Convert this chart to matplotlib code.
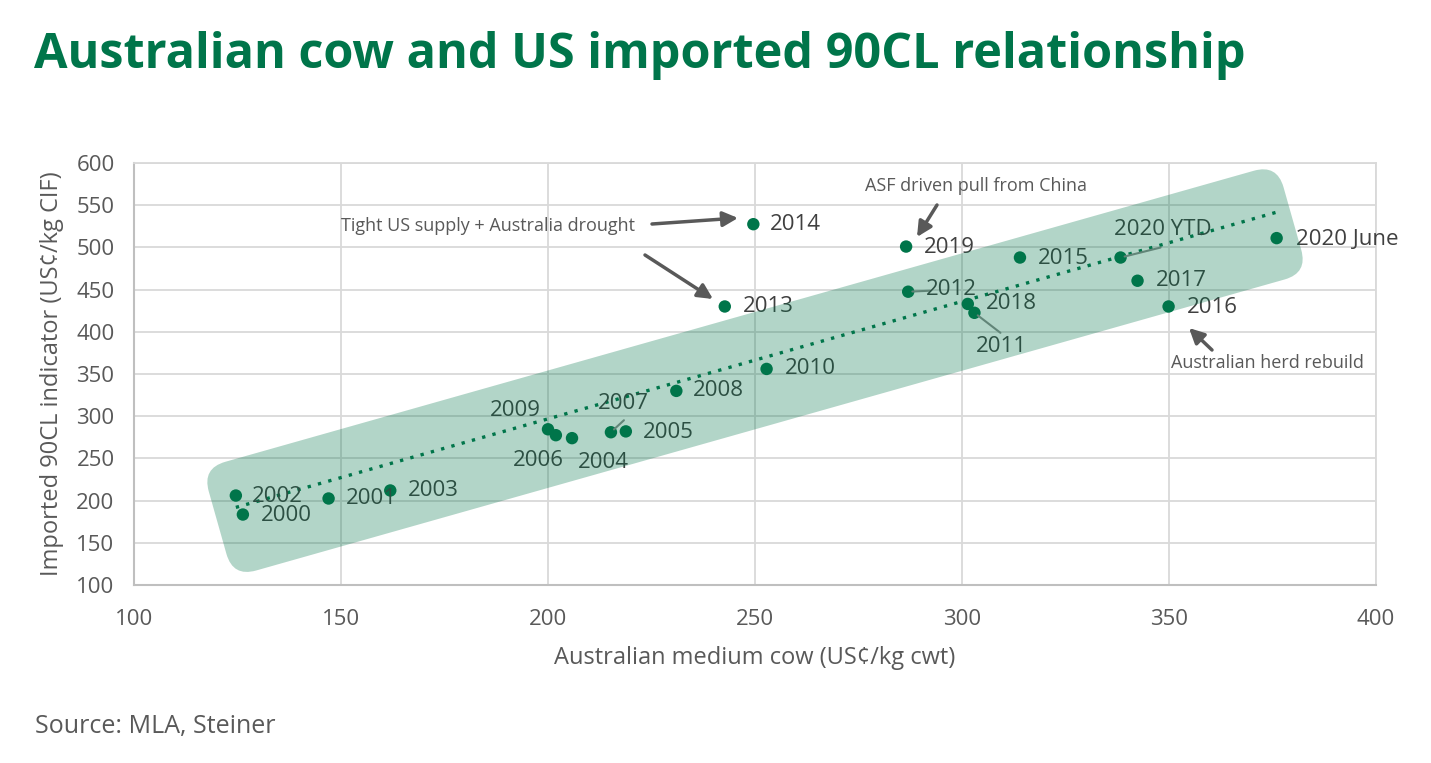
import matplotlib
matplotlib.use("Agg")
import matplotlib.pyplot as plt
import numpy as np
from matplotlib.patches import FancyBboxPatch
from matplotlib.transforms import Affine2D

plt.rcParams['font.family'] = ['Open Sans', 'DejaVu Sans']

# data
years = ['2000', '2001', '2002', '2003', '2004', '2005', '2006', '2007', '2008', '2009',
         '2010', '2011', '2012', '2013', '2014', '2015', '2016', '2017', '2018', '2019',
         '2020 YTD', '2020 June']
aus_cow = [126.3, 147.0, 124.6, 161.9, 205.8, 218.8, 201.9, 215.2, 231.0, 200.0,
           252.8, 303.0, 287.0, 242.7, 249.6, 314.0, 349.9, 342.4, 301.4, 286.5,
           338.3, 376.0]
us_90cl = [183.5, 202.5, 206.0, 212.0, 274.0, 282.0, 277.5, 281.0, 330.0, 284.5,
           356.0, 422.5, 447.5, 430.0, 527.5, 488.0, 430.0, 460.5, 433.0, 501.0,
           488.0, 511.0]

# label offsets in pixels (dx, dy)
label_off = {
    '2000': (18, -1), '2001': (17, 0), '2002': (16, -1), '2003': (18, 0),
    '2004': (6, -24), '2005': (17, -1), '2006': (-43, -25), '2007': (-13, 29),
    '2008': (17, 0), '2009': (-58, 19), '2010': (18, 0), '2011': (1, -34),
    '2012': (18, 2), '2013': (18, 0), '2014': (17, 0), '2015': (18, -1),
    '2016': (18, -1), '2017': (18, 0), '2018': (18, 0), '2019': (18, -1),
    '2020 YTD': (-7, 28), '2020 June': (19, -1),
}
# leader lines from label back to point
leaders = {'2007': (13, 12), '2012': (22, 1), '2011': (26, -20), '2020 YTD': (40, 10)}

green = '#00754A'
grey_txt = '#595959'

fig = plt.figure(figsize=(14.31, 7.63), dpi=100)
ax = fig.add_axes([134 / 1431, 1 - 585 / 763, (1376 - 134) / 1431, (585 - 163) / 763])

ax.set_xlim(100, 400)
ax.set_ylim(100, 600)
ax.set_xticks(np.arange(100, 401, 50))
ax.set_yticks(np.arange(100, 601, 50))
ax.grid(True, color='#d9d9d9', lw=1.3, zorder=0)
ax.set_axisbelow(True)
ax.tick_params(length=0, labelsize=16, labelcolor=grey_txt)
ax.tick_params(axis='x', pad=17)
ax.tick_params(axis='y', pad=14)
for s in ['top', 'right']:
    ax.spines[s].set_color('#d9d9d9')
    ax.spines[s].set_linewidth(1.3)
for s in ['left', 'bottom']:
    ax.spines[s].set_color('#bfbfbf')
    ax.spines[s].set_linewidth(1.5)

ax.set_xlabel('Australian medium cow (US¢/kg cwt)', fontsize=17, color=grey_txt, labelpad=12)
ax.set_ylabel('Imported 90CL indicator (US¢/kg CIF)', fontsize=17, color=grey_txt, labelpad=9)

# highlight band (rotated rounded rectangle in pixel space)
cx, cy = ax.transData.transform((250.0, 354))
band_len, band_w = 1117, 113
band = FancyBboxPatch((-band_len / 2, -band_w / 2), band_len, band_w,
                      boxstyle='round,pad=0,rounding_size=24',
                      facecolor=green, alpha=0.3, edgecolor='none',
                      transform=Affine2D().rotate_deg(15.8).translate(cx, cy),
                      zorder=1)
fig.patches.append(band)
band.set_figure(fig)

# trend line
xs = np.array(aus_cow)
ys = np.array(us_90cl)
k, b = np.polyfit(xs, ys, 1)
xt = np.array([xs.min(), xs.max()])
ax.plot(xt, k * xt + b, ls=(0, (1, 2.2)), color=green, lw=2.4, zorder=3)

ax.scatter(xs, ys, s=80, color=green, zorder=4, edgecolor='none')

for name, x, y in zip(years, aus_cow, us_90cl):
    dx, dy = label_off[name]
    ax.annotate(name, (x, y), xytext=(dx, dy), textcoords='offset pixels',
                fontsize=16, color='#404040', va='center', ha='left', zorder=5)
    if name in leaders:
        x1, y1 = leaders[name]
        ax.annotate('', (x, y), xytext=(x1, y1), textcoords='offset pixels',
                    arrowprops=dict(arrowstyle='-', color='#8c8c8c', lw=1.5,
                                    shrinkA=0, shrinkB=3), zorder=4)

# commentary annotations (figure pixel positions)
def px(x, y):
    return (x / 1431, 1 - y / 763)

arrow_kw = dict(arrowstyle='-|>,head_length=0.9,head_width=0.45', color='#595959',
                lw=2.5, shrinkA=0, shrinkB=0)
fig.text(*px(488, 226), 'Tight US supply + Australia drought', fontsize=13,
         color=grey_txt, ha='center', va='center')
ax.annotate('', xy=px(738, 218), xytext=px(652, 224), xycoords='figure fraction',
            textcoords='figure fraction', arrowprops=arrow_kw)
ax.annotate('', xy=px(713, 299), xytext=px(645, 255), xycoords='figure fraction',
            textcoords='figure fraction', arrowprops=arrow_kw)
fig.text(*px(976, 186), 'ASF driven pull from China', fontsize=13,
         color=grey_txt, ha='center', va='center')
ax.annotate('', xy=px(917, 237), xytext=px(937, 205), xycoords='figure fraction',
            textcoords='figure fraction', arrowprops=arrow_kw)
fig.text(*px(1267, 363), 'Australian herd rebuild', fontsize=13,
         color=grey_txt, ha='center', va='center')
ax.annotate('', xy=px(1189, 328), xytext=px(1212, 350), xycoords='figure fraction',
            textcoords='figure fraction', arrowprops=arrow_kw)

fig.text(*px(34, 56), 'Australian cow and US imported 90CL relationship', fontsize=35,
         fontweight='bold', color=green, ha='left', va='center')
fig.text(*px(35, 727), 'Source: MLA, Steiner', fontsize=18, color=grey_txt,
         ha='left', va='center')

fig.savefig('out.png', dpi=100)
